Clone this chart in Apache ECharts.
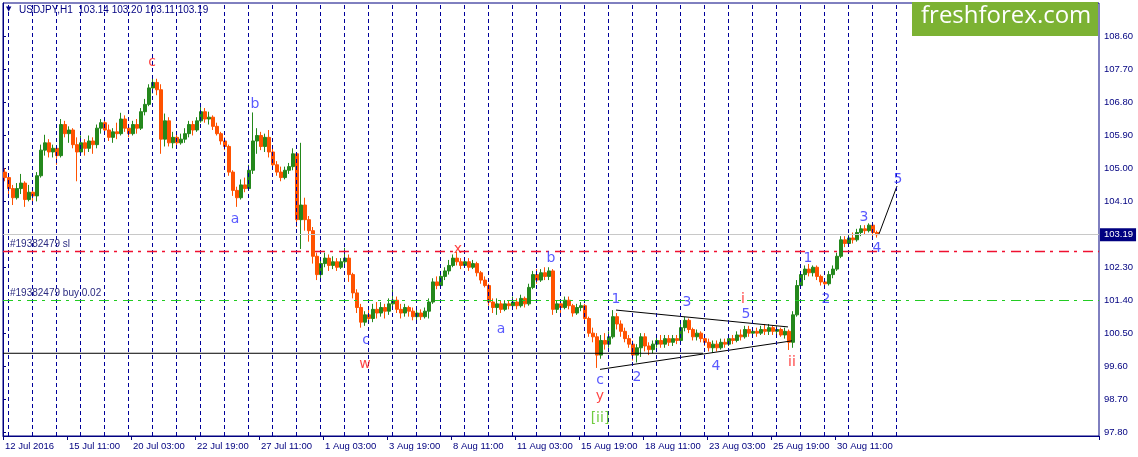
<!DOCTYPE html>
<html><head><meta charset="utf-8">
<script src="https://cdn.jsdelivr.net/npm/echarts@6/dist/echarts.min.js"></script>
<style>html,body{margin:0;padding:0;background:#fff}#c{width:1138px;height:457px}</style>
</head><body><div id="c"></div>
<script>
// ---- data ----
const symbolName = 'USDJPY,H1';
const lastBar = [103.14, 103.20, 103.11, 103.19];
const timeLabels = ['12 Jul 2016','15 Jul 11:00','20 Jul 03:00','22 Jul 19:00','27 Jul 11:00','1 Aug 03:00','3 Aug 19:00','8 Aug 11:00','11 Aug 03:00','15 Aug 19:00','18 Aug 11:00','23 Aug 03:00','25 Aug 19:00','30 Aug 11:00'];
const priceTicks = [97.8, 98.7, 99.6, 100.5, 101.4, 102.3, 104.1, 105.0, 105.9, 106.8, 107.7, 108.6];
// 4-hour candles [open, close, low, high]
const candles = [
[104.90,104.75,104.65,105.00],[104.75,104.45,104.30,104.85],[104.45,104.20,104.00,104.55],[104.20,104.45,104.15,104.60],
[104.45,104.60,104.30,104.85],[104.60,104.15,103.95,104.65],[104.15,104.35,104.10,104.55],[104.35,104.25,104.05,104.45],
[104.25,104.80,104.10,104.90],[104.80,105.50,104.75,105.65],[105.50,105.70,105.35,105.92],[105.70,105.45,105.30,105.80],
[105.45,105.55,105.30,105.65],[105.55,105.35,105.10,105.60],[105.35,106.20,105.30,106.35],[106.20,105.95,105.85,106.30],
[105.95,106.05,105.70,106.15],[106.05,105.65,105.55,106.10],[105.65,105.45,104.65,105.85],[105.45,105.70,105.40,105.90],
[105.70,105.55,105.35,105.80],[105.55,105.75,105.45,105.90],[105.75,105.65,105.40,105.85],[105.65,106.10,105.55,106.20],
[106.10,106.25,105.95,106.35],[106.25,106.05,105.95,106.30],[106.05,105.85,105.75,106.20],[105.85,106.00,105.70,106.10],
[106.00,105.95,105.80,106.25],[105.95,106.35,105.90,106.52],[106.35,106.10,106.00,106.45],[106.10,105.95,105.85,106.20],
[105.95,106.20,105.90,106.30],[106.20,106.10,105.95,106.35],[106.10,106.55,106.05,106.65],[106.55,106.75,106.45,106.90],
[106.75,107.20,106.70,107.30],[107.20,107.35,107.05,107.50],[107.35,107.15,107.00,107.45],[107.15,105.80,105.40,107.30],
[105.80,106.30,105.60,106.50],[106.30,105.70,105.60,106.40],[105.70,105.85,105.55,106.00],[105.85,105.70,105.55,106.00],
[105.70,105.80,105.65,105.95],[105.80,105.95,105.70,106.10],[105.95,106.20,105.85,106.30],[106.20,106.05,105.90,106.30],
[106.05,106.30,106.00,106.40],[106.30,106.55,106.25,106.73],[106.55,106.35,106.25,106.65],[106.35,106.40,106.20,106.55],
[106.40,106.15,106.05,106.45],[106.15,105.95,105.90,106.25],[105.95,105.75,105.65,106.00],[105.75,105.60,105.50,105.85],
[105.60,104.90,104.80,105.65],[104.90,104.40,104.25,104.95],[104.40,104.20,103.95,104.50],[104.20,104.55,104.15,104.70],
[104.55,104.45,104.35,104.75],[104.45,104.95,104.40,105.10],[104.95,105.75,104.85,106.53],[105.75,105.90,105.40,106.10],
[105.90,105.60,105.50,106.00],[105.60,105.85,105.45,105.95],[105.85,105.45,105.30,106.05],[105.45,105.10,105.00,105.55],
[105.10,104.90,104.80,105.20],[104.90,104.75,104.65,105.05],[104.75,104.95,104.70,105.05],[104.95,105.05,104.85,105.15],
[105.05,105.40,104.95,105.55],[105.40,103.60,103.40,105.45],[103.60,104.00,102.80,105.70],[104.00,103.60,103.30,104.20],
[103.60,103.30,103.00,103.70],[103.30,102.60,102.40,103.40],[102.60,102.10,101.95,102.70],[102.10,102.40,101.95,102.55],
[102.40,102.55,102.30,102.70],[102.55,102.35,102.20,102.65],[102.35,102.45,102.25,102.60],[102.45,102.30,102.20,102.55],
[102.30,102.45,102.25,102.55],[102.45,102.55,102.35,102.83],[102.55,102.10,101.90,102.65],[102.10,101.60,101.45,102.15],
[101.60,101.20,101.05,101.70],[101.20,100.80,100.65,101.30],[100.80,101.00,100.70,101.10],[101.00,100.90,100.75,101.20],
[100.90,101.15,100.80,101.30],[101.15,101.05,100.90,101.35],[101.05,101.20,100.95,101.35],[101.20,101.10,100.90,101.30],
[101.10,101.30,101.00,101.45],[101.30,101.40,101.15,101.70],[101.40,101.15,101.05,101.50],[101.15,101.05,100.90,101.30],
[101.05,101.20,100.95,101.30],[101.20,101.10,100.95,101.25],[101.10,100.95,100.85,101.20],[100.95,101.05,100.85,101.15],
[101.05,100.95,100.86,101.15],[100.95,101.10,100.90,101.20],[101.10,101.35,100.90,101.45],[101.35,101.90,101.30,102.00],
[101.90,101.80,101.70,102.05],[101.80,102.05,101.75,102.20],[102.05,102.20,101.95,102.30],[102.20,102.35,102.10,102.50],
[102.35,102.55,102.30,102.65],[102.55,102.45,102.35,102.72],[102.45,102.35,102.25,102.55],[102.35,102.45,102.30,102.55],
[102.45,102.30,102.20,102.55],[102.30,102.40,102.25,102.50],[102.40,102.15,102.05,102.45],[102.15,101.95,101.85,102.20],
[101.95,101.80,101.75,102.05],[101.80,101.35,101.25,101.85],[101.35,101.20,101.05,101.45],[101.20,101.30,101.00,101.45],
[101.30,101.15,101.05,101.40],[101.15,101.30,101.10,101.40],[101.30,101.25,101.15,101.40],[101.25,101.35,101.20,101.50],
[101.35,101.25,101.15,101.45],[101.25,101.45,101.20,101.55],[101.45,101.30,101.20,101.50],[101.30,101.75,101.25,101.85],
[101.75,102.10,101.70,102.20],[102.10,101.95,101.85,102.25],[101.95,102.15,101.90,102.25],[102.15,102.05,101.95,102.30],
[102.05,102.20,101.95,102.30],[102.20,101.15,101.00,102.25],[101.15,101.30,101.05,101.40],[101.30,101.20,101.05,101.40],
[101.20,101.40,101.15,101.50],[101.40,101.25,101.15,101.50],[101.25,101.05,100.95,101.30],[101.05,101.20,101.00,101.30],
[101.20,101.25,101.10,101.35],[101.25,100.90,100.80,101.30],[100.90,100.50,100.40,100.95],[100.50,100.40,100.25,100.65],
[100.40,99.90,99.55,100.50],[99.90,100.30,99.80,100.45],[100.30,100.20,100.05,100.50],[100.20,100.40,100.10,100.55],
[100.40,100.95,100.35,101.13],[100.95,100.75,100.60,101.05],[100.75,100.55,100.40,100.85],[100.55,100.35,100.25,100.65],
[100.35,100.20,100.10,100.45],[100.20,99.90,99.75,100.30],[99.90,100.10,99.70,100.20],[100.10,100.40,99.85,100.50],
[100.40,100.15,100.00,100.50],[100.15,100.05,99.90,100.25],[100.05,100.20,99.95,100.30],[100.20,100.30,100.10,100.45],
[100.30,100.20,100.10,100.45],[100.20,100.35,100.10,100.45],[100.35,100.25,100.15,100.45],[100.25,100.35,100.15,100.45],
[100.35,100.30,100.20,100.45],[100.30,100.65,100.25,100.75],[100.65,100.85,100.55,100.94],[100.85,100.60,100.50,100.90],
[100.60,100.40,100.30,100.65],[100.40,100.50,100.30,100.60],[100.50,100.35,100.25,100.55],[100.35,100.25,100.15,100.45],
[100.25,100.10,100.00,100.35],[100.10,100.20,99.96,100.30],[100.20,100.10,100.00,100.30],[100.10,100.25,100.05,100.35],
[100.25,100.20,100.10,100.35],[100.20,100.35,100.15,100.45],[100.35,100.30,100.20,100.45],[100.30,100.45,100.25,100.55],
[100.45,100.40,100.30,100.60],[100.40,100.60,100.35,100.70],[100.60,100.50,100.40,100.70],[100.50,100.55,100.40,100.65],
[100.55,100.50,100.40,100.65],[100.50,100.60,100.45,100.70],[100.60,100.55,100.45,100.75],[100.55,100.65,100.45,100.75],
[100.65,100.55,100.45,100.70],[100.55,100.60,100.45,100.70],[100.60,100.45,100.40,100.65],[100.45,100.55,100.35,100.65],
[100.55,100.25,100.04,100.60],[100.25,101.00,100.10,101.10],[101.00,101.80,100.95,101.95],[101.80,102.10,101.75,102.20],
[102.10,102.25,101.95,102.35],[102.25,102.15,102.05,102.39],[102.15,102.30,102.05,102.35],[102.30,102.05,101.95,102.35],
[102.05,101.90,101.80,102.10],[101.90,101.85,101.73,102.00],[101.85,102.10,101.80,102.20],[102.10,102.25,102.00,102.35],
[102.25,102.60,102.20,102.70],[102.60,103.05,102.55,103.15],[103.05,102.95,102.85,103.15],[102.95,103.10,102.90,103.20],
[103.10,103.05,102.95,103.25],[103.05,103.25,103.00,103.35],[103.25,103.35,103.15,103.45],[103.35,103.30,103.20,103.45],
[103.30,103.45,103.25,103.50],[103.45,103.25,103.15,103.50],[103.25,103.19,103.11,103.30]
];
const hoursPerCandle = 4;
const slotCount = 274;
const labelEverySlots = 16;
const firstDayHour = 5, hoursPerDay = 24, dayCount = 38;
const currentPrice = 103.19;
const stopLossLevel = 102.74;
const buyLevel = 101.40;
const supportLine = [[0, 99.95], [700, 99.95]];
const triangleUpper = [[613, 101.13], [785, 100.67]];
const triangleLower = [[597, 99.51], [789, 100.29]];
const projectionLine = [[876, 103.21], [894, 104.52]];
// wave labels: [hour index, price, text]
const blueWaves = [[252,106.76,'b'],[232,103.62,'a'],[363,100.31,'c'],[548,102.53,'b'],[498,100.59,'a'],
  [613,101.41,'1'],[597,99.22,'c'],[634,99.30,'2'],[684,101.35,'3'],[713,99.58,'4'],[743,101.02,'5'],
  [805,102.53,'1'],[823,101.43,'2'],[861,103.65,'3'],[874,102.83,'4'],[895,104.69,'5']];
const redWaves = [[149,107.90,'c'],[362,99.66,'w'],[455,102.80,'x'],[597,98.76,'y'],[740,101.41,'i'],[789,99.71,'ii']];
const greenWaves = [[597,98.18,'[ii]']];

// ---- chart ----
const NAVY = '#000080';
const FONT = 'Liberation Sans';
const slots = [];
for (let i = 0; i < slotCount; i++) {
  slots.push(i % labelEverySlots === 0 && (i / labelEverySlots) < timeLabels.length ? timeLabels[i / labelEverySlots] : '');
}
const isLabelSlot = (i) => i % labelEverySlots === 0 && (i / labelEverySlots) < timeLabels.length;
const daySeps = [];
for (let n = 0; n < dayCount; n++) daySeps.push({ xAxis: firstDayHour + n * hoursPerDay });

function waveSeries(arr, color, name) {
  return {
    name, type: 'scatter', xAxisIndex: 1, yAxisIndex: 0, symbolSize: 1,
    itemStyle: { color: 'rgba(0,0,0,0)' }, silent: true, z: 6,
    data: arr.map(d => ({ value: [d[0], d[1]], name: d[2] })),
    label: { show: true, position: 'inside', formatter: p => p.name, color, fontFamily: 'DejaVu Sans', fontSize: 14 }
  };
}
function lineSeries(data, color, extra) {
  return Object.assign({
    type: 'line', xAxisIndex: 1, yAxisIndex: 0, data, symbol: 'none', silent: true, z: 4,
    lineStyle: { color, width: 1 }
  }, extra || {});
}
function levelSeries(level, color, dash, label, width) {
  return {
    type: 'line', xAxisIndex: 1, yAxisIndex: 0, data: [], symbol: 'none', silent: true, z: 2,
    markLine: {
      silent: true, symbol: 'none', animation: false,
      lineStyle: { color, type: dash, width: width || 1, opacity: 1 },
      label,
      data: [{ yAxis: level }]
    }
  };
}

const chart = echarts.init(document.getElementById('c'), null, { renderer: 'canvas' });
chart.setOption({
  animation: false,
  backgroundColor: '#ffffff',
  grid: { left: 3, top: 3, width: slotCount * hoursPerCandle, height: 433, show: true, borderColor: NAVY, borderWidth: 1, containLabel: false },
  graphic: [
    { type: 'text', left: 6, top: 6, style: { text: '\u25BC', fill: NAVY, font: '7px "DejaVu Sans"' } },
    { type: 'text', left: 19, top: 5, style: { text: symbolName + '  ' + lastBar.map(v => v.toFixed(2)).join(' '), fill: NAVY, font: '10px "Liberation Sans"' } },
    { type: 'rect', shape: { x: 912, y: 2, width: 186, height: 34 }, style: { fill: '#7cb233' }, z: 100 },
    { type: 'text', x: 921, y: 4, style: { text: 'freshforex.com', fill: '#ffffff', font: '24px "Open Sans"' }, z: 101 }
  ],
  xAxis: [
    {
      type: 'category', data: slots, boundaryGap: true, gridIndex: 0,
      axisLine: { show: true, lineStyle: { color: NAVY, width: 1 } },
      axisTick: { show: true, interval: (i) => isLabelSlot(i), length: 4, lineStyle: { color: NAVY } },
      axisLabel: { show: true, interval: (i) => isLabelSlot(i), align: 'left', margin: 5, color: NAVY, fontFamily: FONT, fontSize: 9.5 },
      splitLine: { show: false }
    },
    { type: 'value', gridIndex: 0, min: 0, max: slotCount * hoursPerCandle, show: false }
  ],
  yAxis: [{
    type: 'value', position: 'right', min: 97.69, max: 109.52, scale: true,
    axisLine: { show: true, lineStyle: { color: NAVY } },
    axisTick: { show: true, length: 3, customValues: priceTicks, lineStyle: { color: NAVY } },
    axisLabel: { show: true, customValues: priceTicks, formatter: v => v.toFixed(2), color: NAVY, fontFamily: FONT, fontSize: 9.5, margin: 5 },
    splitLine: { show: false }
  }],
  series: [
    lineSeries([], 'rgba(0,0,0,0)', {
      markLine: {
        silent: true, symbol: 'none', animation: false,
        data: daySeps,
        lineStyle: { color: '#00009a', type: [4, 3], width: 1 },
        label: { show: false }
      }
    }),
    levelSeries(currentPrice, '#c8c8c8', 'solid',
      { show: true, position: 'end', distance: 1, formatter: currentPrice.toFixed(2), color: '#ffffff', backgroundColor: NAVY, padding: [2, 3, 1, 4], fontFamily: FONT, fontSize: 9.5 }),
    levelSeries(stopLossLevel, '#f01030', [10, 5, 3, 6],
      { show: true, position: 'insideStartTop', distance: [7, 2], formatter: '#19382479 sl', color: '#2a2a80', fontFamily: FONT, fontSize: 10 }, 1.3),
    levelSeries(buyLevel, '#22cc22', [10, 5, 3, 6],
      { show: true, position: 'insideStartTop', distance: [7, 2], formatter: '#19382479 buy 0.02', color: '#2a2a80', fontFamily: FONT, fontSize: 10 }),
    {
      type: 'candlestick', xAxisIndex: 0, yAxisIndex: 0, data: candles, barWidth: 3, z: 3,
      itemStyle: { color: '#24881c', color0: '#ff5200', borderColor: '#24881c', borderColor0: '#ff5200', borderWidth: 1 }
    },
    lineSeries(supportLine, '#000000'),
    lineSeries(triangleUpper, '#000000'),
    lineSeries(triangleLower, '#000000'),
    lineSeries(projectionLine, '#000000'),
    waveSeries(blueWaves, '#2f2fff', 'blue'),
    waveSeries(redWaves, '#ff1414', 'red'),
    waveSeries(greenWaves, '#4cbf10', 'green')
  ]
});
</script></body></html>
